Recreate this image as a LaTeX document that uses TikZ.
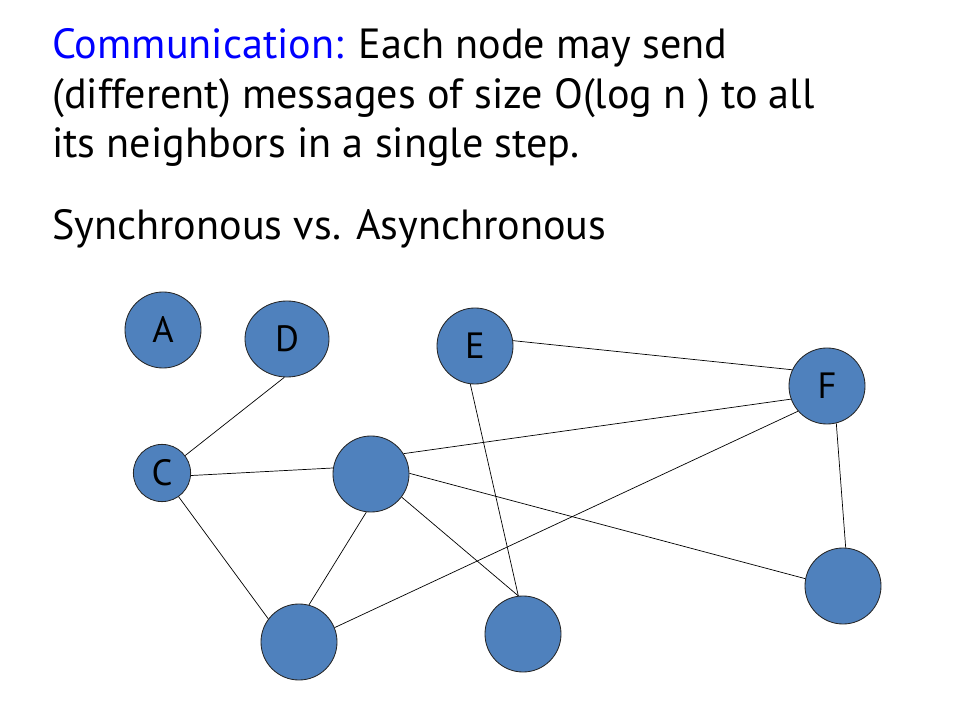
\documentclass[tikz,border=0pt]{standalone}
\usepackage{fontspec}
\setmainfont{PT Sans}
\usetikzlibrary{shapes.geometric}
\definecolor{nodeblue}{RGB}{79,129,189}

\begin{document}
\begin{tikzpicture}[x=0.025cm, y=-0.025cm,
  vertex/.style={draw=black!85, line width=0.6pt, fill=nodeblue, circle, minimum size=1.9cm, inner sep=0pt, font=\fontsize{26}{30}\selectfont},
  edge/.style={line width=0.5pt},
  line/.style={anchor=base west, inner sep=0pt, font=\fontsize{30}{36}\selectfont}]
  \useasboundingbox (0,0) rectangle (960,720);

  \node[line] (l1) at (52,59) {\textcolor{blue}{Communication:} Each node may send};
  \node[line] (l2) at (52,109) {(different) messages of size O(log n ) to all};
  \node[line] (l3) at (52,158) {its neighbors in a single step.};
  \node[line] (l4) at (52,240) {Synchronous vs. Asynchronous};

  \node[vertex] (a) at (163,330) {A};
  \node[vertex, ellipse, minimum width=2.1cm, minimum height=1.9cm] (d) at (287,339) {D};
  \node[vertex] (e) at (475,346) {E};
  \node[vertex] (f) at (827,386) {F};
  \node[vertex, minimum size=1.43cm] (c) at (162,473) {C};
  \node[vertex] (m) at (371,474) {};
  \node[vertex] (b1) at (299,642) {};
  \node[vertex] (b2) at (523,634) {};
  \node[vertex] (b3) at (843,586) {};

  \draw[edge] (c.37) -- (d.266);
  \draw[edge] (c.355) -- (m.171);
  \draw[edge] (c.305) -- (b1.143);
  \draw[edge] (m.32) -- (f.200);
  \draw[edge] (m.1) -- (b3.169);
  \draw[edge] (m.323) -- (b2.97);
  \draw[edge] (m.263) -- (b1.75);
  \draw[edge] (e.8) -- (f.155);
  \draw[edge] (e.263) -- (b2.97);
  \draw[edge] (f.221) -- (b1.22);
  \draw[edge] (f.284) -- (b3.86);
\end{tikzpicture}
\end{document}
